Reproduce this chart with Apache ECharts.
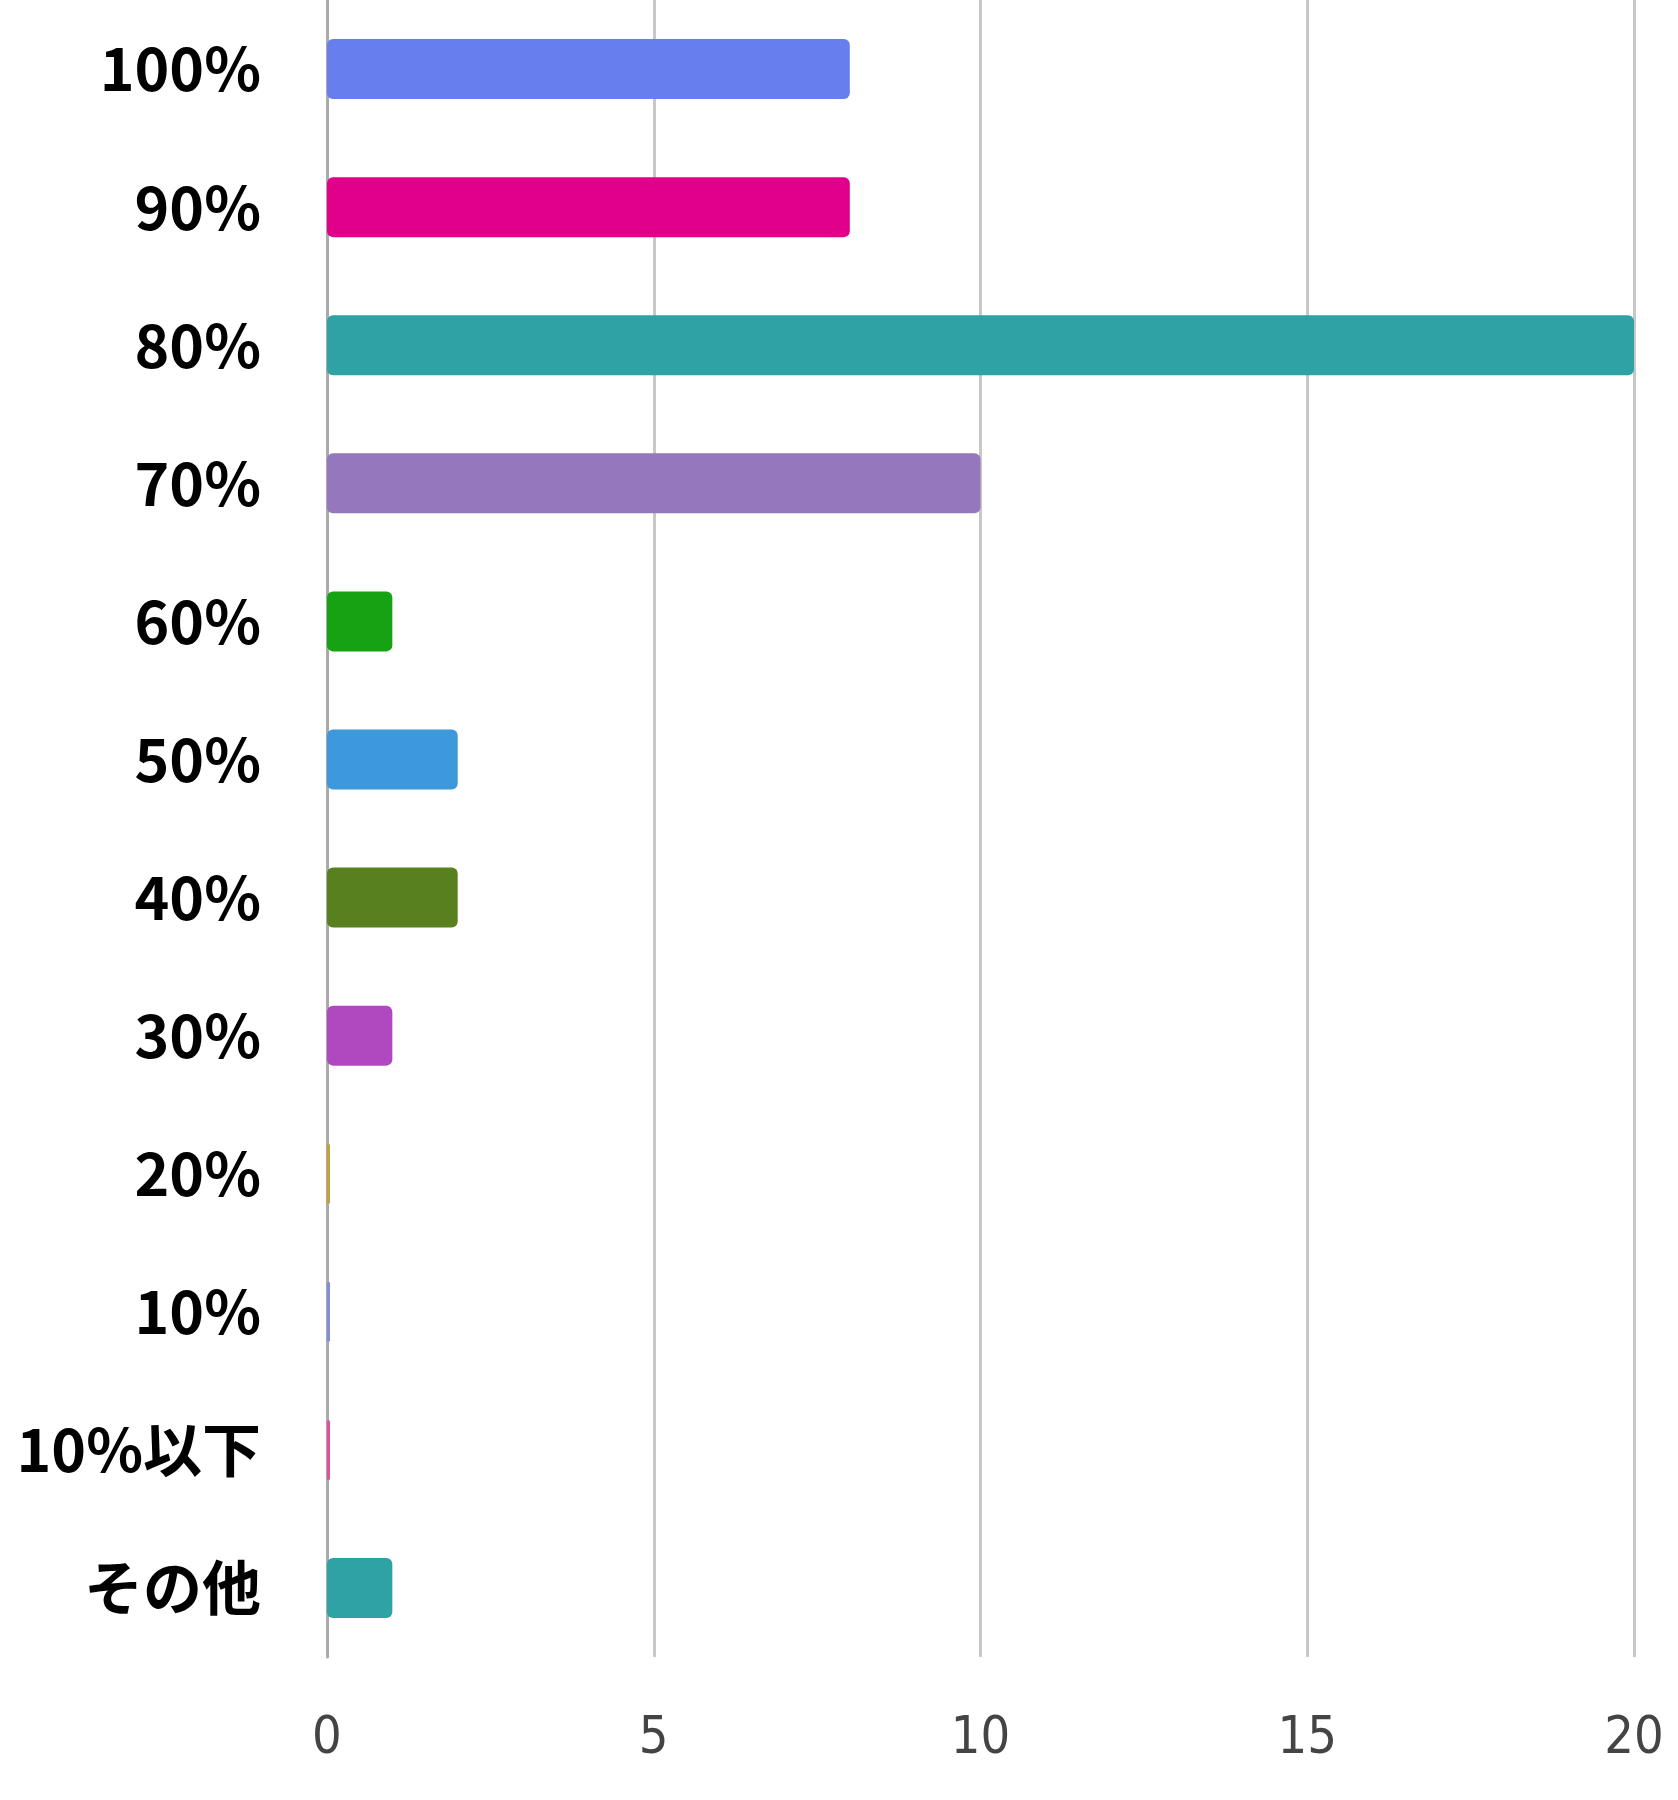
<!DOCTYPE html>
<html>
<head>
<meta charset="utf-8">
<script src="https://cdn.jsdelivr.net/npm/echarts@6/dist/echarts.min.js"></script>
<style>
html,body{margin:0;padding:0;background:#fff;}
#chart{width:1678px;height:1800px;}
</style>
</head>
<body>
<div id="chart"></div>
<script>
const categories = ["100%","90%","80%","70%","60%","50%","40%","30%","20%","10%","10%以下","その他"];
const values = [8, 8, 20, 10, 1, 2, 2, 1, 0, 0, 0, 1];
const barColors = ["#667eee","#e0008a","#2ea2a5","#9577bd","#16a313","#3d98dc","#58801e","#b049bf","#c4a040","#7f8fde","#e050a0","#2ea2a5"];
const xTicks = [0, 5, 10, 15, 20];

const chart = echarts.init(document.getElementById('chart'));
chart.setOption({
  animation: false,
  backgroundColor: '#ffffff',
  grid: { left: 327, right: 44, top: 0, bottom: 143, containLabel: false },
  xAxis: {
    type: 'value',
    min: xTicks[0],
    max: xTicks[xTicks.length - 1],
    interval: 5,
    axisLine: { show: false },
    axisTick: { show: false },
    splitLine: { show: true, lineStyle: { color: '#c8c8c8', width: 3 } },
    axisLabel: {
      color: '#444444',
      fontSize: 52,
      fontFamily: '"DejaVu Sans Condensed", "DejaVu Sans", sans-serif',
      margin: 56
    }
  },
  yAxis: {
    type: 'category',
    data: categories,
    inverse: true,
    axisLine: { show: true, lineStyle: { color: '#aaaaaa', width: 3 } },
    axisTick: { show: false },
    axisLabel: {
      color: '#000000',
      fontSize: 59,
      fontWeight: 'bold',
      fontFamily: '"Noto Sans CJK JP", "Noto Sans", sans-serif',
      margin: 66
    }
  },
  series: [{
    type: 'bar',
    data: values.map((v, i) => ({ value: v, itemStyle: { color: barColors[i] } })),
    barWidth: 60,
    barMinHeight: 3,
    itemStyle: { borderRadius: 6 }
  }]
});
</script>
</body>
</html>
